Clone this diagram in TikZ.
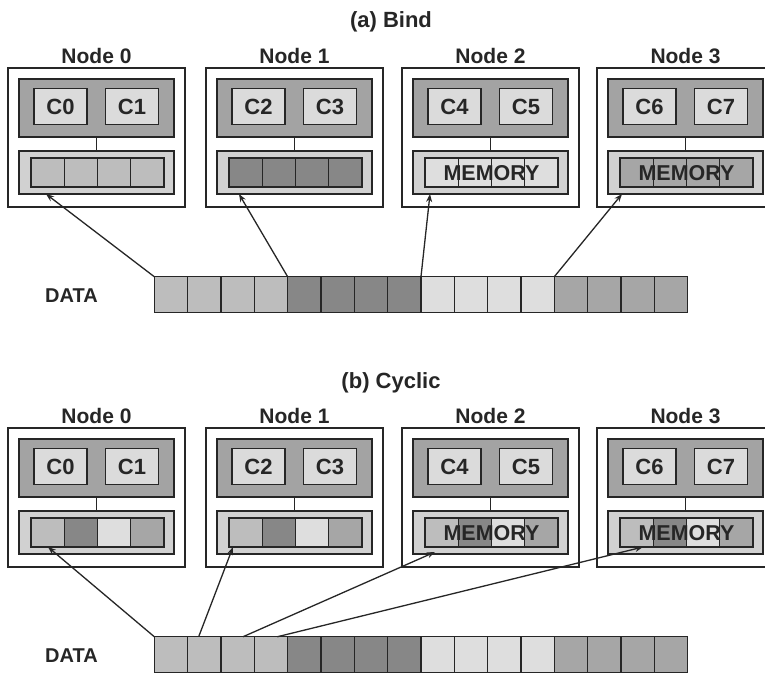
\documentclass[tikz,border=0pt]{standalone}
\usepackage{fontspec}
\setmainfont{Liberation Sans}
\usetikzlibrary{arrows.meta}

\definecolor{sh0}{gray}{0.74}
\definecolor{sh1}{gray}{0.53}
\definecolor{sh2}{gray}{0.87}
\definecolor{sh3}{gray}{0.65}
\definecolor{cpugray}{gray}{0.64}
\definecolor{coregray}{gray}{0.86}
\definecolor{memgray}{gray}{0.82}
\definecolor{ink}{gray}{0.15}

\tikzset{
	box/.style={draw=ink, line width=1.4pt, inner sep=0pt, outer sep=0pt},
	nodebox/.style={box, fill=white, minimum width=177pt, minimum height=139pt},
	cpubox/.style={box, fill=cpugray, minimum width=155pt, minimum height=58pt},
	corebox/.style={box, fill=coregray, minimum width=53pt, minimum height=36pt, text=ink, font=\fontsize{22}{22}\selectfont\bfseries},
	membox/.style={box, fill=memgray, minimum width=155pt, minimum height=43pt},
	cellbox/.style={box, minimum width=33.25pt, minimum height=29pt},
	datacell/.style={box, minimum width=33.33pt, minimum height=35.5pt},
	txt/.style={inner sep=0pt, anchor=base, text=ink, font=\fontsize{#1}{#1}\selectfont\bfseries},
	ptr/.style={draw=ink, line width=1.3pt, -{Stealth[length=8pt,width=6pt]}}
}

\begin{document}
\begin{tikzpicture}[x=1pt, y=-1pt]
	\clip (0,0) rectangle (765,677);
	\fill[white] (0,0) rectangle (765,677);
	\foreach \grp/\dy/\ttltext/\cyc in {A/0/{(a) Bind}/0, B/360/{(b) Cyclic}/1} {
		\node[txt=22] (ttl\grp) at (391, 28+\dy) {\ttltext};
		\foreach \k/\lx in {0/8, 1/206, 2/402, 3/597} {
			\node[nodebox] (nd\grp\k) at (\lx+88.5, 137.5+\dy) {};
			\node[txt=21] (lbl\grp\k) at (\lx+88.5, 63.5+\dy) {Node \k};
			\node[cpubox] (cpu\grp\k) at (\lx+88.5, 108+\dy) {};
			\pgfmathtruncatemacro\ca{2*\k}
			\pgfmathtruncatemacro\cb{2*\k+1}
			\node[corebox] (c\grp\ca) at (\lx+52.5, 106.5+\dy) {C\ca};
			\node[corebox] (c\grp\cb) at (\lx+124, 106.5+\dy) {C\cb};
			\node[membox] (mem\grp\k) at (\lx+88.5, 172.5+\dy) {};
			\draw[ink, line width=1.4pt] (cpu\grp\k) -- (mem\grp\k);
			\foreach \i in {0,...,3} {
				\pgfmathtruncatemacro\tone{\cyc==0 ? \k : \i}
				\node[cellbox, fill=sh\tone] (mc\grp\k\i) at (\lx+39.625+33.25*\i, 172.5+\dy) {};
			}
			\ifnum\k>1
				\node[txt=21.5] (mt\grp\k) at (\lx+89.5, 180.5+\dy) {MEMORY};
			\fi
		}
		\node[txt=20] (data\grp) at (71.5, 302+\dy) {DATA};
		\foreach \i in {0,...,15} {
			\pgfmathtruncatemacro\blk{int(\i/4)}
			\node[datacell, fill=sh\blk] (d\grp\i) at (171+33.33*\i, 294.5+\dy) {};
		}
	}
	\draw[ptr] (dA0.north west) -- ([xshift=27pt]memA0.south west);
	\draw[ptr] (dA4.north west) -- ([xshift=22pt]memA1.south west);
	\draw[ptr] (dA8.north west) -- ([xshift=17pt]memA2.south west);
	\draw[ptr] (dA12.north west) -- ([xshift=14pt]memA3.south west);
	\draw[ptr] (dB0.north west) -- ([xshift=17pt]mcB00.south west);
	\draw[ptr] ([xshift=11pt]dB1.north west) -- ([xshift=4pt]mcB10.south west);
	\draw[ptr] ([xshift=22pt]dB2.north west) -- ([xshift=22pt,yshift=2pt]memB2.south west);
	\draw[ptr] ([xshift=23pt]dB3.north west) -- ([xshift=23pt]mcB30.south west);
\end{tikzpicture}
\end{document}
